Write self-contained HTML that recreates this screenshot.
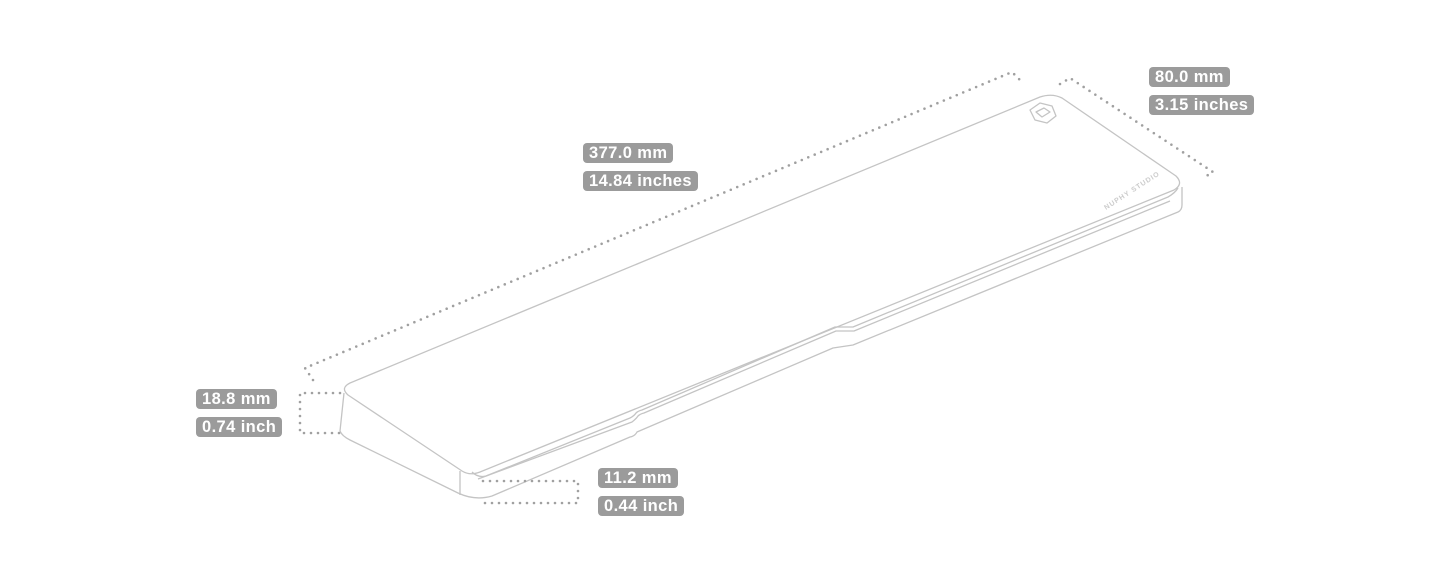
<!DOCTYPE html>
<html><head><meta charset="utf-8"><style>
html,body{margin:0;padding:0;background:#fff;width:1445px;height:583px;overflow:hidden}
.l{position:absolute;background:#9b9b9b;color:#fff;font-family:"Liberation Sans",sans-serif;font-weight:bold;font-size:16.5px;letter-spacing:0.4px;line-height:20px;border-radius:4px;padding:0 6px;height:20px}
</style></head><body>
<svg width="1445" height="583" style="position:absolute;left:0;top:0" fill="none">
<g stroke="#c4c4c4" stroke-width="1.3" stroke-linejoin="round">
<path d="M350 383 L1040 97 Q1052 93 1062 98 L1176 176 Q1184 184 1174 190 L480 472 Q470 476 462 471 L348 395 Q340 388 350 383 Z"/>
<path d="M344 393 L340 431 Q342 436 350 440 L458 493 Q475 501 492 496 L630 437 Q635 436 637 432 L833 348 L853 345 L1178 212 Q1182 210 1182 205 L1182 187"/>
<line x1="460" y1="471" x2="460" y2="495"/>
<path d="M472 472 Q478 478 486 476 L630 418 Q634 416 636 413 Q638 411 642 410 L835 327 L853 327 L1168 197 Q1175 193 1178 188"/>
<path d="M478 479 L632 422 Q636 419 638 416 Q640 414 644 413 L836 331 L854 331 L1170 201"/>
<path d="M1030 110 L1040 103 L1052 106 L1056 116 L1047 123 L1035 120 Z M1036 112 L1044 108 L1050 112 L1042 117 Z"/>
</g>
<text x="0" y="0" transform="translate(1106 210) rotate(-33)" fill="#ccc" font-family="Liberation Sans,sans-serif" font-size="7" font-weight="bold" letter-spacing="1">NUPHY STUDIO</text>
<g stroke="#a0a0a0" stroke-width="2.6" stroke-linecap="round" stroke-dasharray="0 7">
<path d="M313 380 L305 368 L1012 72 L1020 80"/>
<path d="M1060 84 L1070 78 L1213 172 L1203 178"/>
<path d="M340 393 L300 393 L300 433 L340 433"/>
<path d="M483 481 L578 481 L578 503 L483 503"/>
</g>
</svg>
<div class="l" style="left:583px;top:143px">377.0 mm</div>
<div class="l" style="left:583px;top:171px">14.84 inches</div>
<div class="l" style="left:1149px;top:67px">80.0 mm</div>
<div class="l" style="left:1149px;top:95px">3.15 inches</div>
<div class="l" style="left:196px;top:389px">18.8 mm</div>
<div class="l" style="left:196px;top:417px">0.74 inch</div>
<div class="l" style="left:598px;top:468px">11.2 mm</div>
<div class="l" style="left:598px;top:496px">0.44 inch</div>
</body></html>
